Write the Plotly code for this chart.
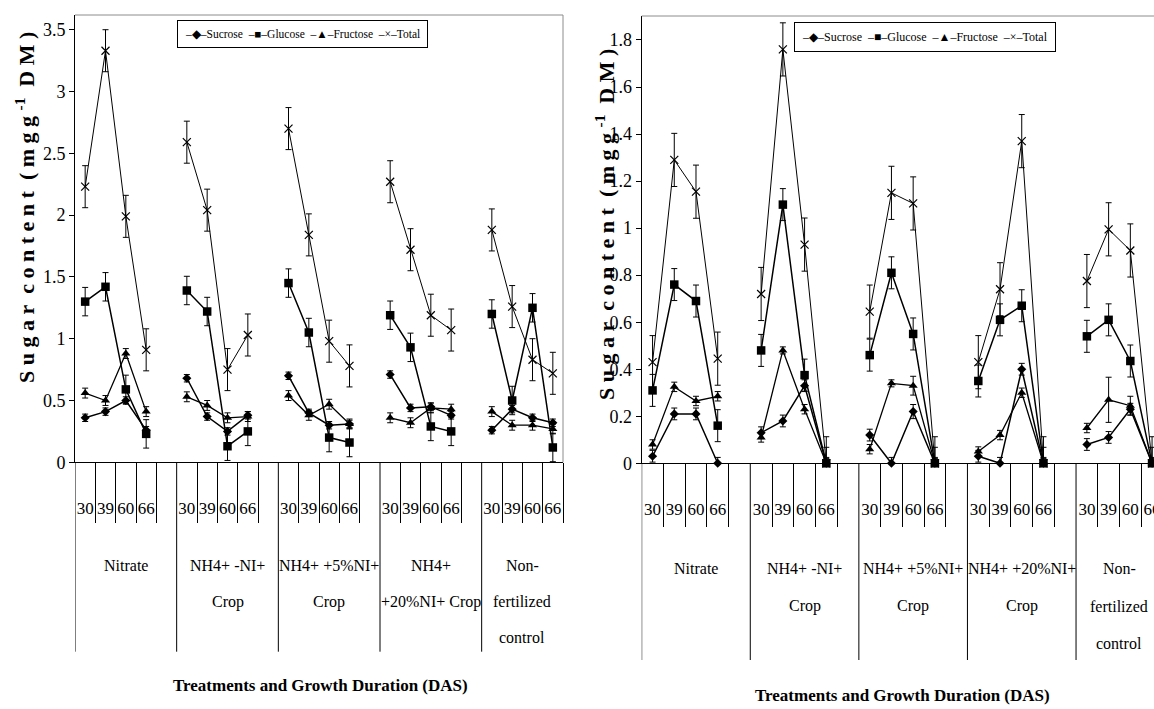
import plotly.graph_objects as go

# ---------------- data (mg g-1 DM) ----------------
DAS = ["30", "39", "60", "66"]
SERIES = ["Sucrose", "Glucose", "Fructose", "Total"]
GROUPS_LEFT = [["Nitrate"], ["NH4+ -NI+", "Crop"], ["NH4+ +5%NI+", "Crop"],
               ["NH4+", "+20%NI+ Crop"], ["Non-", "fertilized", "control"]]
GROUPS_RIGHT = [["Nitrate"], ["NH4+ -NI+", "Crop"], ["NH4+ +5%NI+", "Crop"],
                ["NH4+ +20%NI+", "Crop"], ["Non-", "fertilized", "control"]]

# left panel: groups in order, each 30/39/60/66 DAS
L_SUCROSE = [0.36, 0.41, 0.50, 0.26, 0.68, 0.37, 0.25, 0.38, 0.70, 0.40, 0.30, 0.31,
             0.71, 0.44, 0.45, 0.38, 0.26, 0.43, 0.36, 0.32]
L_GLUCOSE = [1.30, 1.42, 0.59, 0.23, 1.39, 1.22, 0.13, 0.25, 1.45, 1.05, 0.20, 0.16,
             1.19, 0.93, 0.29, 0.25, 1.20, 0.50, 1.25, 0.12]
L_FRUCTOSE = [0.56, 0.50, 0.88, 0.41, 0.53, 0.46, 0.36, 0.37, 0.54, 0.38, 0.47, 0.31,
              0.36, 0.32, 0.44, 0.43, 0.41, 0.30, 0.30, 0.27]
L_TOTAL = [2.23, 3.33, 1.99, 0.91, 2.59, 2.04, 0.75, 1.03, 2.70, 1.84, 0.98, 0.78,
           2.27, 1.72, 1.19, 1.07, 1.88, 1.26, 0.83, 0.72]
L_SUCROSE_ERR = [0.03, 0.03, 0.03, 0.03, 0.03, 0.03, 0.03, 0.03, 0.03, 0.03, 0.03, 0.03,
                 0.03, 0.03, 0.03, 0.03, 0.03, 0.03, 0.03, 0.03]
L_GLUCOSE_ERR = [0.115, 0.115, 0.115, 0.115, 0.115, 0.115, 0.115, 0.115, 0.115, 0.115,
                 0.115, 0.115, 0.115, 0.115, 0.115, 0.115, 0.115, 0.115, 0.115, 0.115]
L_FRUCTOSE_ERR = [0.04, 0.04, 0.04, 0.04, 0.04, 0.04, 0.04, 0.04, 0.04, 0.04, 0.04, 0.04,
                  0.04, 0.04, 0.04, 0.04, 0.04, 0.04, 0.04, 0.04]
L_TOTAL_ERR = [0.17, 0.17, 0.17, 0.17, 0.17, 0.17, 0.17, 0.17, 0.17, 0.17, 0.17, 0.17,
               0.17, 0.17, 0.17, 0.17, 0.17, 0.17, 0.17, 0.17]

# right panel
R_SUCROSE = [0.03, 0.21, 0.21, 0.00, 0.13, 0.18, 0.33, 0.00, 0.12, 0.00, 0.22, 0.00,
             0.03, 0.00, 0.40, 0.00, 0.08, 0.11, 0.23, 0.00]
R_GLUCOSE = [0.31, 0.76, 0.69, 0.16, 0.48, 1.10, 0.375, 0.00, 0.46, 0.81, 0.55, 0.00,
             0.35, 0.61, 0.67, 0.00, 0.54, 0.61, 0.435, 0.00]
R_FRUCTOSE = [0.08, 0.325, 0.265, 0.285, 0.11, 0.48, 0.23, 0.00, 0.06, 0.34, 0.33, 0.00,
              0.05, 0.12, 0.30, 0.00, 0.15, 0.27, 0.245, 0.00]
R_TOTAL = [0.43, 1.29, 1.155, 0.445, 0.72, 1.76, 0.93, 0.00, 0.645, 1.15, 1.105, 0.00,
           0.43, 0.74, 1.37, 0.00, 0.775, 0.995, 0.905, 0.00]
R_SUCROSE_ERR = [0.025, 0.025, 0.025, 0.025, 0.025, 0.025, 0.025, 0.025, 0.025, 0.025,
                 0.03, 0.025, 0.025, 0.025, 0.025, 0.025, 0.025, 0.025, 0.025, 0.025]
R_GLUCOSE_ERR = [0.068, 0.068, 0.068, 0.068, 0.068, 0.068, 0.068, 0.068, 0.068, 0.068,
                 0.068, 0.068, 0.068, 0.068, 0.068, 0.068, 0.068, 0.068, 0.068, 0.068]
R_FRUCTOSE_ERR = [0.02, 0.02, 0.02, 0.02, 0.02, 0.015, 0.02, 0.02, 0.02, 0.015, 0.04, 0.02,
                  0.02, 0.02, 0.02, 0.02, 0.02, 0.096, 0.04, 0.02]
R_TOTAL_ERR = [0.113, 0.113, 0.113, 0.113, 0.113, 0.113, 0.113, 0.113, 0.113, 0.113,
               0.113, 0.113, 0.113, 0.113, 0.113, 0.113, 0.113, 0.113, 0.113, 0.113]

# ---------------- styling ----------------
FONT = "Liberation Serif"
W, H = 1154, 709
N_GROUPS, N_DAS = 5, 4
SLOT = N_DAS + 1

MARKERS = {
    "Sucrose": dict(symbol="diamond", size=7, color="black"),
    "Glucose": dict(symbol="square", size=8.5, color="black"),
    "Fructose": dict(symbol="triangle-up", size=8, color="black"),
    "Total": dict(symbol="x-thin", size=8, color="black", line=dict(width=1.2, color="black")),
}
LEGEND_GLYPH = {"Sucrose": "\u25c6", "Glucose": "\u25a0", "Fructose": "\u25b2", "Total": "\u00d7"}
LINEW = {"Sucrose": 1.5, "Glucose": 1.5, "Fructose": 1.3, "Total": 1.0}


def build(vals, errs):
    xs, ys, ep, em = [], [], [], []
    for g in range(N_GROUPS):
        for s in range(N_DAS):
            v = vals[g * N_DAS + s]
            e = errs[g * N_DAS + s]
            xs.append(g * SLOT + s)
            ys.append(v)
            ep.append(e)
            em.append(min(e, v))
        if g < N_GROUPS - 1:
            xs.append(g * SLOT + N_DAS)
            ys.append(None)
            ep.append(0)
            em.append(0)
    return xs, ys, ep, em


fig = go.Figure()

panels = [
    ("x", "y", [L_SUCROSE, L_GLUCOSE, L_FRUCTOSE, L_TOTAL],
     [L_SUCROSE_ERR, L_GLUCOSE_ERR, L_FRUCTOSE_ERR, L_TOTAL_ERR]),
    ("x2", "y2", [R_SUCROSE, R_GLUCOSE, R_FRUCTOSE, R_TOTAL],
     [R_SUCROSE_ERR, R_GLUCOSE_ERR, R_FRUCTOSE_ERR, R_TOTAL_ERR]),
]
for xa, ya, vals_list, err_list in panels:
    for name, vals, errs in zip(SERIES, vals_list, err_list):
        xs, ys, ep, em = build(vals, errs)
        fig.add_trace(go.Scatter(
            x=xs, y=ys, name=name, mode="lines+markers", xaxis=xa, yaxis=ya,
            showlegend=False, connectgaps=False, cliponaxis=False,
            line=dict(color="black", width=LINEW[name]),
            marker=MARKERS[name],
            error_y=dict(type="data", symmetric=False, array=ep, arrayminus=em,
                         color="black", thickness=1, width=3),
        ))

# ---------------- axes ----------------
L_DOM_X = [75 / W, 563 / W]
L_DOM_Y = [(H - 462.3) / H, (H - 15) / H]
R_DOM_X = [641.7 / W, 1.0]
R_DOM_Y = [(H - 463.3) / H, (H - 16) / H]

centers = [g * SLOT + s for g in range(N_GROUPS) for s in range(N_DAS)]
ticktext = DAS * N_GROUPS
short_b = [g * SLOT + s + 0.5 for g in range(N_GROUPS) for s in range(N_DAS)]


def xaxis(domain, rng, short_len, visible_b, anchor):
    return dict(domain=domain, range=rng, anchor=anchor, showgrid=False, zeroline=False,
                showline=True, linecolor="black", linewidth=1,
                tickmode="array", tickvals=centers, ticktext=ticktext, ticks="",
                ticklabelstandoff=30, ticklabeloverflow="allow",
                tickfont=dict(family=FONT, size=17, color="black"),
                minor=dict(tickmode="array", tickvals=visible_b, ticks="outside",
                           ticklen=short_len, tickcolor="black", tickwidth=1,
                           showgrid=False))


def yaxis(domain, rng, dtick, anchor):
    return dict(domain=domain, range=rng, anchor=anchor, showgrid=False, zeroline=False,
                showline=True, linecolor="black", linewidth=1, ticks="outside",
                ticklen=5, tickcolor="black", dtick=dtick, tick0=0,
                tickfont=dict(family=FONT, size=18, color="black"))


fig.update_layout(
    xaxis=xaxis(L_DOM_X, [-0.5, N_GROUPS * SLOT - 1.5], 60, short_b, "y"),
    yaxis=yaxis(L_DOM_Y, [0, 3.619], 0.5, "x"),
    xaxis2=xaxis(R_DOM_X, [-0.5, 23.09], 63, [b for b in short_b if b < 23.09], "y2"),
    yaxis2=yaxis(R_DOM_Y, [0, 1.902], 0.2, "x2"),
)

# ---------------- frame, separators, labels ----------------
GRAY = "#8c8c8c"
shapes = [
    dict(type="line", xref="x domain", yref="y domain", x0=0, x1=1, y0=1, y1=1,
         line=dict(color=GRAY, width=1)),
    dict(type="line", xref="x domain", yref="y domain", x0=1, x1=1, y0=0, y1=1,
         line=dict(color=GRAY, width=1)),
    dict(type="line", xref="x2 domain", yref="y2 domain", x0=0, x1=1, y0=1, y1=1,
         line=dict(color=GRAY, width=1)),
]

annotations = []
for xr, dom_y, bottom_px, groups, ys_px in [
        ("x", L_DOM_Y, 651.7, GROUPS_LEFT, [565, 601.5, 637]),
        ("x2", R_DOM_Y, 660, GROUPS_RIGHT, [568.3, 606, 643.3])]:
    for g in range(N_GROUPS):
        shapes.append(dict(type="line", xref=xr, yref="paper", x0=g * SLOT - 0.5,
                           x1=g * SLOT - 0.5, y0=dom_y[0], y1=(H - bottom_px) / H,
                           line=dict(color="black", width=1)))
        start = g * SLOT - 0.5
        end = min(start + SLOT, N_GROUPS * SLOT - 1.5)
        for i, line in enumerate(groups[g]):
            annotations.append(dict(xref=xr, yref="paper", x=(start + end) / 2,
                                    y=(H - ys_px[i]) / H, text=line, showarrow=False,
                                    xanchor="center", yanchor="middle",
                                    font=dict(family=FONT, size=16, color="black")))

XT = "<b>Treatments and Growth Duration (DAS)</b>"
for cx, cy in [(320, 685), (902, 695)]:
    annotations.append(dict(xref="paper", yref="paper", x=cx / W, y=(H - cy) / H, text=XT,
                            showarrow=False, xanchor="center", yanchor="middle",
                            font=dict(family=FONT, size=17, color="black")))

NB = "\u00a0"
YT = ("<b>S u g a r" + NB + " c o n t e n t" + NB + " ( m g g " +
      "<sup>-1</sup>" + NB + " D M )</b>")
for cx, cy in [(25, 208), (605, 225)]:
    annotations.append(dict(xref="paper", yref="paper", x=cx / W, y=(H - cy) / H, text=YT,
                            textangle=-90, showarrow=False, xanchor="center",
                            yanchor="middle", font=dict(family=FONT, size=22, color="black")))

# legend boxes (text)
LEG = (NB + NB).join("\u2013" + LEGEND_GLYPH[s] + "\u2013" + s for s in SERIES)
for cx, cy, fs in [(302, 33.5, 11.5), (924.5, 36.5, 12)]:
    annotations.append(dict(xref="paper", yref="paper", x=cx / W, y=(H - cy) / H, text=LEG,
                            showarrow=False, xanchor="center", yanchor="middle",
                            bordercolor="black", borderwidth=1, borderpad=7,
                            bgcolor="white",
                            font=dict(family=FONT, size=fs, color="black")))

fig.update_layout(
    width=W, height=H, autosize=False,
    margin=dict(l=0, r=0, t=0, b=0, pad=0, autoexpand=False),
    paper_bgcolor="white", plot_bgcolor="white",
    showlegend=False,
    shapes=shapes, annotations=annotations,
)

fig.write_html("out.html", config={"displayModeBar": False},
               post_script="document.body.style.margin='0';document.body.style.padding='0';")
